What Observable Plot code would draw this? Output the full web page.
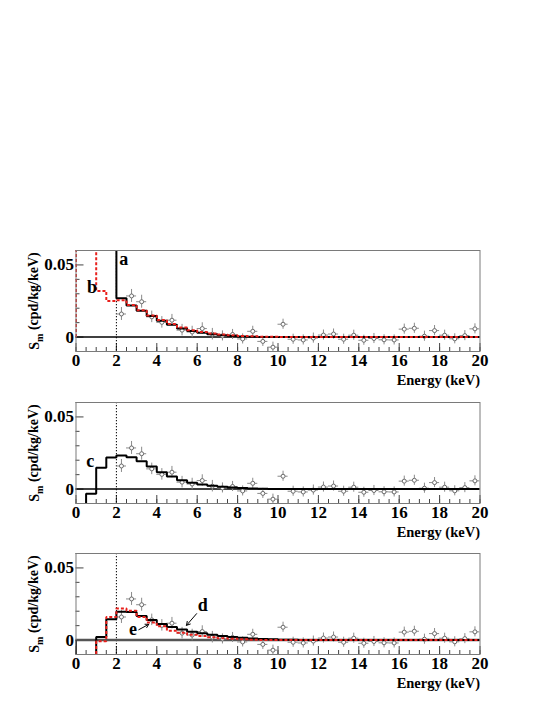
<!DOCTYPE html>
<html><head><meta charset="utf-8">
<script src="https://cdn.jsdelivr.net/npm/d3@7"></script>
<script src="https://cdn.jsdelivr.net/npm/@observablehq/plot@0.6"></script>
<style>
html,body{margin:0;padding:0;background:#fff;}
#wrap{position:relative;width:545px;height:705px;overflow:hidden;background:#fff;}
#wrap svg{position:absolute;left:0;}
</style></head><body><div id="wrap"></div>
<script>
// ---- measured data points (same in all three panels) ----
const pointEnergy = [2.25,2.75,3.25,3.75,4.25,4.75,5.25,5.75,6.25,6.75,7.25,7.75,8.25,8.75,9.25,9.75,10.25,10.75,11.25,11.75,12.25,12.75,13.25,13.75,14.25,14.75,15.25,15.75,16.25,16.75,17.25,17.75,18.25,18.75,19.25,19.75];
const pointSm = [0.016,0.0285,0.0245,0.014,0.0102,0.0117,0.0048,0.0035,0.0059,0.002,0.0008,0.0018,-0.0013,0.004,-0.003,-0.007,0.0089,-0.0015,-0.002,-0.0007,0.0014,0.0021,-0.0015,0.0013,-0.0022,-0.001,-0.0019,-0.002,0.0055,0.0061,0.0006,0.0045,0.0013,-0.0012,0.001,0.0057];
const pointErr = [0.0045,0.0045,0.0045,0.004,0.004,0.004,0.004,0.004,0.004,0.004,0.0035,0.0035,0.0035,0.0035,0.0035,0.0035,0.0035,0.0035,0.0035,0.0035,0.0035,0.0035,0.0035,0.0035,0.0035,0.0035,0.0035,0.0035,0.0035,0.0035,0.0035,0.0035,0.0035,0.0035,0.0035,0.0035];
const binHalfWidth = 0.25;
const threshold = 2;

// ---- model curves (bin lower edges, values) ----
const aEdges = [2,2,2.5,3,3.5,4,4.5,5,5.5,6,6.5,7,7.5,8,8.5,9,20];
const aValues = [0.09,0.0269,0.0218,0.0183,0.0146,0.0113,0.0086,0.006,0.0042,0.003,0.0019,0.0012,0.0007,0.0004,0.0002,0,0];
const bEdges = [0,0,1,1.5,2,2.5,3,3.5,4,4.5,5,5.5,6,6.5,7,7.5,8,8.5,9,9.5,10,20];
const bValues = [0,0.09,0.032,0.025,0.0255,0.0222,0.0186,0.015,0.0118,0.009,0.0066,0.0048,0.0035,0.0025,0.0017,0.0012,0.0008,0.0005,0.0003,0.0002,0,0];
const cEdges = [0.5,0.5,1,1.5,2,2.5,3,3.5,4,4.5,5,5.5,6,6.5,7,7.5,8,8.5,9,9.5,10,20];
const cValues = [-0.02,-0.0032,0.0147,0.0218,0.0232,0.022,0.0193,0.0156,0.0117,0.0087,0.0062,0.0044,0.0032,0.0023,0.0016,0.0011,0.0007,0.0004,0.0002,0.0001,0,0];
const dEdges = [0,0,1,1.5,2,2.5,3,3.5,4,4.5,5,5.5,6,6.5,7,7.5,8,8.5,9,9.5,10,10.5,11,12,20];
const dValues = [0,-0.02,0.0021,0.0144,0.0197,0.0194,0.0167,0.0139,0.0111,0.009,0.0074,0.0058,0.0047,0.0037,0.0028,0.0021,0.0016,0.0011,0.0007,0.0005,0.0003,0.0002,0.0001,0,0];
const eEdges = [1,1,1.5,2,2.5,3,3.5,4,4.5,5,5.5,6,6.5,7,7.5,8,8.5,9,20];
const eValues = [-0.02,-0.0009,0.016,0.0218,0.0204,0.016,0.0121,0.0095,0.0065,0.0051,0.0037,0.0028,0.002,0.0013,0.0009,0.0005,0.0002,0,0];

// ---- axes ----
const xMajorTicks = [0,2,4,6,8,10,12,14,16,18,20];
const xMinorTicks = d3.range(0, 20.001, 0.5);
const yMajorTicks = [0, 0.05];
const yMinorTicks = [-0.01,0.01,0.02,0.03,0.04,0.06];
const xDomain = [0, 20];
const yDomain = [-0.01, 0.06];
const xLabel = "Energy (keV)";
const yLabel = "Sm (cpd/kg/keV)";

// ---- annotations ----
const labels1 = [{t:"a", E:2.37, v:0.0537}, {t:"b", E:0.79, v:0.0342}];
const labels2 = [{t:"c", E:0.70, v:0.0195}];
const labels3 = [{t:"d", E:6.27, v:0.0238}, {t:"e", E:2.82, v:0.0076}];
const arrows3 = [{E1:5.97, v1:0.0183, E2:5.47, v2:0.0102}, {E1:3.11, v1:0.0072, E2:3.6, v2:0.0109}];

const points = pointEnergy.map((E,i) => ({E, v: pointSm[i], err: pointErr[i]}));
const W = 545, H = 151.5, ML = 75.5, MR = 65.5, MT = 10, MB = 40.5;
const plotH = H - MT - MB, plotW = W - ML - MR;
const serif = "'Liberation Serif','Times New Roman',serif";

function curve(edges, values, stroke, dashed) {
  return Plot.line(d3.zip(edges, values), {
    x: d => d[0], y: d => d[1], curve: "step-after", clip: true,
    stroke, strokeWidth: 2, strokeLinecap: "butt", strokeLinejoin: "miter",
    strokeDasharray: dashed ? "3,2" : null
  });
}

function makePanel(cfg) {
  const marks = [
    Plot.ruleX(xMinorTicks, {x: d => d, insetTop: plotH - 4, stroke: "#444", strokeWidth: 1}),
    Plot.ruleX(xMajorTicks, {x: d => d, insetTop: plotH - 8, stroke: "#444", strokeWidth: 1}),
    Plot.ruleY(yMinorTicks, {y: d => d, insetRight: plotW - 4, stroke: "#444", strokeWidth: 1}),
    Plot.ruleY(yMajorTicks, {y: d => d, insetRight: plotW - 8, stroke: "#444", strokeWidth: 1}),
    Plot.axisX(xMajorTicks, {tickSize: 0, tickPadding: 2, fontSize: 17, fontWeight: "bold", label: null, tickFormat: d => String(d)}),
    Plot.axisY(yMajorTicks, {tickSize: 0, tickPadding: 2, fontSize: 17, fontWeight: "bold", label: null, tickFormat: d => String(d)}),
    Plot.ruleX([threshold], {stroke: "#000", strokeDasharray: "1.3,1.7", strokeWidth: 1}),
    Plot.ruleY([0], {stroke: cfg.zeroStroke, strokeWidth: cfg.zeroWidth}),
    Plot.ruleX(points, {x: "E", y1: d => d.v - d.err, y2: d => d.v + d.err, stroke: "#8a8a8a", strokeWidth: 1, clip: true}),
    Plot.ruleY(points, {y: "v", x1: d => d.E - binHalfWidth, x2: d => d.E + binHalfWidth, stroke: "#8a8a8a", strokeWidth: 1, clip: true}),
    Plot.dot(points, {x: "E", y: "v", r: 2, stroke: "#6a6a6a", fill: "#fff", strokeWidth: 1, clip: true}),
    ...cfg.curves,
    Plot.frame({stroke: "#7a7a7a", strokeWidth: 1}),
    Plot.text(cfg.labels, {x: "E", y: "v", text: "t", fontSize: 18, fontWeight: "bold", lineAnchor: "middle", textAnchor: "middle", fill: "#000"}),
    Plot.arrow(cfg.arrows || [], {x1: "E1", y1: "v1", x2: "E2", y2: "v2", stroke: "#000", strokeWidth: 1, headLength: 6}),
    Plot.text([xLabel], {frameAnchor: "bottom-right", dy: 29, text: d => d, fontSize: 14.5, fontWeight: "bold", textAnchor: "end", lineAnchor: "middle"}),
    Plot.text([yLabel], {frameAnchor: "left", dx: -41, rotate: -90, text: d => d, fontSize: 14, fontWeight: "bold", textAnchor: "middle", lineAnchor: "middle"})
  ];
  const svg = Plot.plot({
    width: W, height: H, marginLeft: ML, marginRight: MR, marginTop: MT, marginBottom: MB,
    x: {domain: xDomain}, y: {domain: yDomain},
    style: {"font-family": serif, "font-weight": "bold", "background": "transparent", "overflow": "visible"},
    marks
  });
  svg.setAttribute("font-family", serif);
  d3.select(svg).selectAll("text").filter(function() { return this.textContent === yLabel; })
    .each(function() {
      const t = d3.select(this);
      t.text(null);
      t.append("tspan").text("S");
      t.append("tspan").attr("dy", "0.3em").attr("font-size", "0.72em").text("m");
      t.append("tspan").attr("dy", "-0.3em").text(" (cpd/kg/keV)");
    });
  svg.style.top = cfg.top + "px";
  return svg;
}

const wrap = document.getElementById("wrap");
wrap.appendChild(makePanel({top: 240, zeroStroke: "#000", zeroWidth: 1.6, labels: labels1,
  curves: [curve(aEdges, aValues, "#000", false), curve(bEdges, bValues, "#e8201c", true)]}));
wrap.appendChild(makePanel({top: 391.5, zeroStroke: "#000", zeroWidth: 1.6, labels: labels2,
  curves: [curve(cEdges, cValues, "#000", false)]}));
wrap.appendChild(makePanel({top: 543, zeroStroke: "#555", zeroWidth: 2.4, labels: labels3, arrows: arrows3,
  curves: [curve(dEdges, dValues, "#000", false), curve(eEdges, eValues, "#e8201c", true)]}));
</script>
</body></html>
